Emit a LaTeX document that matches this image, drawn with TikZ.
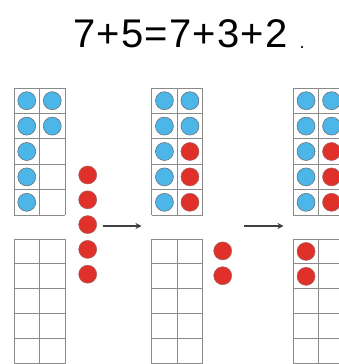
\documentclass[tikz,border=0pt]{standalone}
\usepackage{fontspec}
\setmainfont{Liberation Sans}
\usetikzlibrary{arrows.meta}
\definecolor{dotblue}{HTML}{4DB6E8}
\definecolor{dotred}{HTML}{E0302A}
\definecolor{gridgray}{HTML}{8A8A8A}
\begin{document}
\begin{tikzpicture}[x=1pt,y=-1pt,
  gridline/.style={draw=gridgray, line width=1pt},
  bdot/.style={circle, fill=dotblue, draw=gray!80!black, line width=0.5pt, minimum size=18pt, inner sep=0pt},
  rdot/.style={circle, fill=dotred, draw=gray!60!dotred, line width=0.5pt, minimum size=18pt, inner sep=0pt},
  move/.style={draw=black!75, line width=1.3pt, -{Stealth[length=6pt,width=6pt]}},
  title/.style={inner sep=0pt, anchor=base west, font=\fontsize{40}{40}\selectfont\addfontfeature{LetterSpace=3}}]
\useasboundingbox (0,0) rectangle (338,364);
% title
\node[title] (eq) at (73,47) {7+5=7+3+2};
\node[inner sep=0pt, anchor=base west, font=\fontsize{18}{18}\selectfont] (dot) at (299.5,48) {.};
% grids
\foreach \gx/\gn in {14/a,151.7/b,293.3/c}{
  \foreach \k in {0,...,5}{
    \draw[gridline] (\gx,{88+25.4*\k}) -- ({\gx+51},{88+25.4*\k});
    \draw[gridline] (\gx,{239+24.9*\k}) -- ({\gx+51},{239+24.9*\k});
  }
  \foreach \c in {0,1,2}{
    \draw[gridline] ({\gx+25.5*\c},88) -- ({\gx+25.5*\c},215);
    \draw[gridline] ({\gx+25.5*\c},239) -- ({\gx+25.5*\c},363.5);
  }
  % blue dots
  \foreach \k in {0,...,4}{
    \node[bdot] (\gn-L\k) at ({\gx+12.75},{100.7+25.4*\k}) {};
  }
  \foreach \k in {0,1}{
    \node[bdot] (\gn-R\k) at ({\gx+38.25},{100.7+25.4*\k}) {};
  }
}
% red dots in right column of grids b and c
\foreach \gx/\gn in {151.7/b,293.3/c}{
  \foreach \k in {2,3,4}{
    \node[rdot] (\gn-R\k) at ({\gx+38.25},{100.7+25.4*\k}) {};
  }
}
% red dots in bottom grid c
\node[rdot] (c-B0) at (306.05,251.45) {};
\node[rdot] (c-B1) at (306.05,276.35) {};
% loose red dots
\foreach \k in {0,...,4}{
  \node[rdot] (r\k) at (87.7,{175+24.8*\k}) {};
}
\node[rdot] (s0) at (222.7,250.9) {};
\node[rdot] (s1) at (222.7,275.7) {};
% arrows
\coordinate (a1s) at (103,226);
\coordinate (a1e) at (141.5,226);
\coordinate (a2s) at (244,226);
\coordinate (a2e) at (283.5,226);
\draw[move] (a1s) -- (a1e);
\draw[move] (a2s) -- (a2e);
\end{tikzpicture}
\end{document}
